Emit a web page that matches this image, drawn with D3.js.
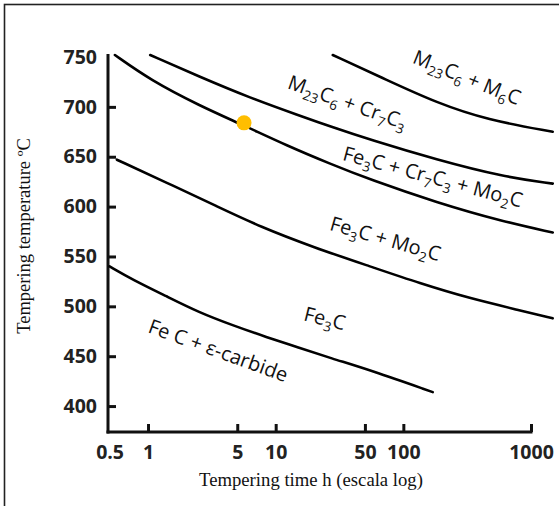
<!doctype html>
<meta charset="utf-8">
<script src="https://d3js.org/d3.v7.min.js"></script>
<style>
  body { margin: 0; background: #fff; }
  svg { display: block; }
</style>
<body>
</body>
<script>

// ---- data (time in h, temperature in ºC) ----
var timeTicks = [0.5, 1, 5, 10, 50, 100, 1000];
var timeTickLabels = ["0.5", "1", "5", "10", "50", "100", "1000"];
var tempTicks = [400, 450, 500, 550, 600, 650, 700, 750];

var curve1 = [[0.5,540],[0.75,527],[1.4,510],[2.5,494],[4.6,481],[8.5,469],[15,459],[27,448],[55,436],[170,414]];
var curve2 = [[0.57,647],[1.4,624],[3.5,600],[7.5,580],[20,559],[55,540],[135,523],[330,508],[820,496],[1480,488]];
var curve3 = [[0.55,752],[1.04,727],[2.55,701],[5.5,682],[12.3,661],[26.6,643],[55,627],[183,604],[603,585],[1480,574]];
var curve4 = [[1.04,752],[2.55,730],[6.3,709],[15.5,691],[26,681],[55,667],[183,647],[603,630],[1480,623]];
var curve5 = [[28,752],[74,727],[183,704],[452,687],[1480,675]];
var curves = [curve1, curve2, curve3, curve4, curve5];

var point = [5.65, 684];

// phase labels: text parts [text, isSub], anchor (time, temp), rotation
var phaseLabels = [
  {parts: [["M",0],["23",1],["C",0],["6",1],[" + M",0],["6",1],["C",0]], t: 300, T: 723, rot: 22},
  {parts: [["M",0],["23",1],["C",0],["6",1],[" + Cr",0],["7",1],["C",0],["3",1]], t: 35, T: 698, rot: 19.5},
  {parts: [["Fe",0],["3",1],["C + Cr",0],["7",1],["C",0],["3",1],[" + Mo",0],["2",1],["C",0]], t: 165, T: 623, rot: 15},
  {parts: [["Fe",0],["3",1],["C + Mo",0],["2",1],["C",0]], t: 70, T: 561, rot: 16},
  {parts: [["Fe",0],["3",1],["C",0]], t: 23.5, T: 481, rot: 14},
  {parts: [["Fe C + ε-carbide",0]], t: 3.4, T: 449, rot: 20}
];

var W = 559, H = 506;
var svg = d3.select("body").append("svg").attr("width", W).attr("height", H);

// frame
svg.append("rect")
  .attr("x", 4.5).attr("y", 4.5).attr("width", 700).attr("height", 700)
  .style("fill", "none").style("stroke", "#222").style("stroke-width", 1.6);

var x = d3.scaleLog().domain([0.5, 1000]).range([109.6, 531]);
var y = d3.scaleLinear().domain([374, 750]).range([432, 57]);

var tickFont = "'Open Sans', sans-serif";

// y axis
var yAxis = d3.axisLeft(y)
  .tickValues(tempTicks)
  .tickSizeInner(-8).tickSizeOuter(0).tickPadding(11);
var gy = svg.append("g").attr("transform", "translate(108,0)").call(yAxis);
gy.select(".domain").remove();
gy.selectAll(".tick line").style("stroke", "#111").style("stroke-width", 3)
  .filter(function(d) { return d == 750; }).remove();
gy.selectAll(".tick text")
  .style("font-family", tickFont).style("font-weight", "bold")
  .style("font-size", "19.5px").style("fill", "#222");
svg.append("line")
  .attr("x1", 108).attr("x2", 108).attr("y1", 54).attr("y2", 433.5)
  .style("stroke", "#111").style("stroke-width", 3);

// x axis
var xAxis = d3.axisBottom(x)
  .tickValues(timeTicks)
  .tickFormat(function(d, i) { return timeTickLabels[i]; })
  .tickSizeInner(-8).tickSizeOuter(0).tickPadding(13);
var gx = svg.append("g").attr("transform", "translate(0,432)").call(xAxis);
gx.select(".domain").remove();
gx.selectAll(".tick line").style("stroke", "#111").style("stroke-width", 3)
  .filter(function(d) { return d == 0.5; }).remove();
gx.selectAll(".tick text")
  .style("font-family", tickFont).style("font-weight", "bold")
  .style("font-size", "19.5px").style("fill", "#222");
svg.append("line")
  .attr("x1", 106.5).attr("x2", x(1000) + 1.5).attr("y1", 432).attr("y2", 432)
  .style("stroke", "#111").style("stroke-width", 3);

// axis titles
svg.append("text")
  .attr("x", 311).attr("y", 486)
  .attr("text-anchor", "middle")
  .style("font-family", "'Liberation Serif', serif").style("font-size", "18.7px").style("fill", "#111")
  .text("Tempering time h (escala log)");

svg.append("text")
  .attr("transform", "translate(30,236) rotate(-90)")
  .attr("text-anchor", "middle")
  .style("font-family", "'Liberation Serif', serif").style("font-size", "18.5px").style("fill", "#111")
  .text("Tempering temperature ºC");

// boundary curves
var line = d3.line()
  .x(function(d) { return x(d[0]); })
  .y(function(d) { return y(d[1]); })
  .curve(d3.curveBasis);

svg.append("g").selectAll("path")
  .data(curves)
  .enter().append("path")
  .attr("d", line)
  .style("fill", "none").style("stroke", "#000").style("stroke-width", 2.6)
  .style("stroke-linecap", "round");

// marker
svg.append("circle")
  .attr("cx", x(point[0])).attr("cy", y(point[1])).attr("r", 7.5)
  .style("fill", "#FFBE00");

// phase labels
var lab = svg.append("g").selectAll("text")
  .data(phaseLabels)
  .enter().append("text")
  .attr("transform", function(d) {
    return "translate(" + x(d.t) + "," + y(d.T) + ") rotate(" + d.rot + ")";
  })
  .attr("text-anchor", "middle")
  .style("font-family", "'Open Sans', sans-serif").style("font-size", "20px").style("fill", "#111");

lab.each(function(d) {
  var t = d3.select(this), sub = false;
  d.parts.forEach(function(p) {
    var dy = 0;
    if (p[1] && !sub) dy = 5;
    if (!p[1] && sub) dy = -5;
    sub = !!p[1];
    t.append("tspan")
      .attr("dy", dy)
      .style("font-size", p[1] ? "13.5px" : null)
      .text(p[0]);
  });
});

</script>
